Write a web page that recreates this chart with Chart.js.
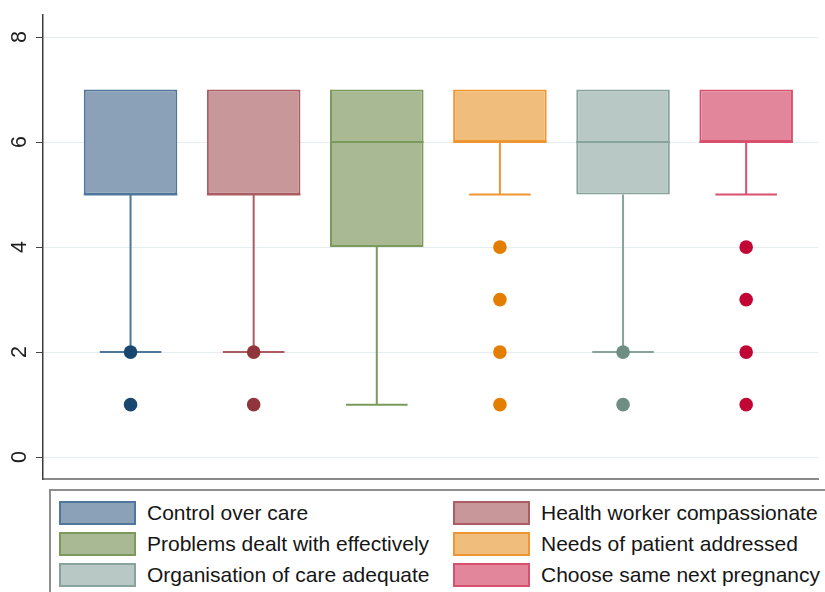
<!DOCTYPE html>
<html>
<head>
<meta charset="utf-8">
<script src="https://cdn.jsdelivr.net/npm/chart.js@4"></script>
<style>
  html, body { margin: 0; padding: 0; background: #fff; }
  body { width: 825px; height: 592px; overflow: hidden; position: relative; font-family: "Liberation Sans", Arial, sans-serif; }
  #plot { position: absolute; left: 0; top: 0; width: 825px; height: 486px; }
  #legend {
    position: absolute; left: 49px; top: 489px; width: 800px; height: 130px;
    box-sizing: border-box; border: 2px solid #8e8e8e; background: #fff;
    padding: 10px 0 0 8px;
    display: grid; grid-template-columns: 394px auto; grid-auto-rows: 24px; row-gap: 7px;
  }
  .item { display: flex; align-items: center; height: 24px; white-space: nowrap; }
  .swatch { width: 77px; height: 24px; box-sizing: border-box; border: 2px solid; margin-right: 11px; flex: none; }
  .label { font-size: 21px; color: #161616; line-height: 24px; }
</style>
</head>
<body>
<div id="plot"><canvas id="chart"></canvas></div>
<div id="legend"></div>
<script>
// Satisfaction items (one box each), scored 1-7
const categories = [
  'Control over care',
  'Health worker compassionate',
  'Problems dealt with effectively',
  'Needs of patient addressed',
  'Organisation of care adequate',
  'Choose same next pregnancy'
];
const lowerWhisker = [2, 2, 1, 5, 2, 5];
const q1 = [5, 5, 4, 6, 5, 6];
const median = [5, 5, 6, 6, 6, 6];
const q3 = [7, 7, 7, 7, 7, 7];
const upperWhisker = [7, 7, 7, 7, 7, 7];
const outliers = [[2, 1], [2, 1], [], [4, 3, 2, 1], [2, 1], [4, 3, 2, 1]];
const yTicks = [0, 2, 4, 6, 8];

// Stata s2color-like palette: box fill, outline/whisker, marker
const fillColors = ['#8aa1b8', '#c7979a', '#a9b994', '#f1bd7d', '#b8c8c4', '#e2879b'];
const lineColors = ['#4f779d', '#ab5d63', '#7b9a5c', '#ee9631', '#87a39b', '#d9506f'];
const markerColors = ['#1a476f', '#90353b', '#55752f', '#e37e00', '#6e8e84', '#c10534'];

const boxData = categories.map((c, i) => ({ x: i + 1, y: [q1[i], q3[i]] }));
const outlierPoints = outliers.flatMap((vals, i) => vals.map(v => ({ x: i + 1, y: v })));
const outlierColors = outliers.flatMap((vals, i) => vals.map(() => markerColors[i]));

// Whiskers, caps and median lines, placed with the chart's scales
const boxWhiskers = {
  id: 'boxWhiskers',
  afterDatasetDraw(chart, args) {
    if (args.index !== 0) return;
    const { ctx, scales: { x, y } } = chart;
    const bars = chart.getDatasetMeta(0).data;
    const capHalf = 0.25;
    ctx.save();
    ctx.lineWidth = 2;
    ctx.lineCap = 'butt';
    categories.forEach((c, i) => {
      const cx = x.getPixelForValue(i + 1);
      const capL = x.getPixelForValue(i + 1 - capHalf);
      const capR = x.getPixelForValue(i + 1 + capHalf);
      ctx.strokeStyle = lineColors[i];
      if (lowerWhisker[i] < q1[i]) {
        const yb = y.getPixelForValue(q1[i]);
        const yw = y.getPixelForValue(lowerWhisker[i]);
        ctx.beginPath();
        ctx.moveTo(cx, yb); ctx.lineTo(cx, yw);
        ctx.moveTo(capL, yw); ctx.lineTo(capR, yw);
        ctx.stroke();
      }
      if (upperWhisker[i] > q3[i]) {
        const yt = y.getPixelForValue(q3[i]);
        const yw = y.getPixelForValue(upperWhisker[i]);
        ctx.beginPath();
        ctx.moveTo(cx, yt); ctx.lineTo(cx, yw);
        ctx.moveTo(capL, yw); ctx.lineTo(capR, yw);
        ctx.stroke();
      }
      const bar = bars[i];
      const ym = y.getPixelForValue(median[i]);
      ctx.beginPath();
      ctx.moveTo(bar.x - bar.width / 2, ym);
      ctx.lineTo(bar.x + bar.width / 2, ym);
      ctx.stroke();
    });
    ctx.restore();
  }
};

// Y tick labels written vertically (reading upwards)
const verticalTickLabels = {
  id: 'verticalTickLabels',
  afterDraw(chart) {
    const { ctx, scales: { y } } = chart;
    ctx.save();
    ctx.fillStyle = '#1e1e1e';
    ctx.font = '21.5px "Liberation Sans", Arial, sans-serif';
    ctx.textAlign = 'center';
    ctx.textBaseline = 'middle';
    y.ticks.forEach(t => {
      const py = y.getPixelForValue(t.value);
      ctx.save();
      ctx.translate(y.left - 16, py);
      ctx.rotate(-Math.PI / 2);
      ctx.fillText(String(t.value), 0, 0);
      ctx.restore();
    });
    ctx.restore();
  }
};

new Chart(document.getElementById('chart'), {
  type: 'bar',
  data: {
    datasets: [
      {
        type: 'bar',
        data: boxData,
        backgroundColor: fillColors,
        borderColor: lineColors,
        borderWidth: 2,
        borderSkipped: false,
        barPercentage: 1,
        categoryPercentage: 0.76,
        order: 1
      },
      {
        type: 'scatter',
        data: outlierPoints,
        pointBackgroundColor: outlierColors,
        pointBorderWidth: 0,
        pointRadius: 6.8,
        order: 0
      }
    ]
  },
  options: {
    responsive: true,
    maintainAspectRatio: false,
    animation: false,
    layout: { padding: { left: 36, top: 15, right: 0, bottom: 2 } },
    plugins: { legend: { display: false }, tooltip: { enabled: false } },
    scales: {
      x: {
        type: 'linear',
        min: 0.289,
        max: 6.585,
        offset: false,
        ticks: { display: false, stepSize: 1, includeBounds: false },
        grid: { color: 'rgba(0,0,0,0)', drawTicks: false, drawOnChartArea: false, offset: false },
        border: { display: true, color: '#8a8a8a', width: 2 }
      },
      y: {
        type: 'linear',
        min: -0.42,
        max: 8.42,
        afterBuildTicks: scale => { scale.ticks = yTicks.map(v => ({ value: v })); },
        ticks: { display: false },
        grid: { color: '#e6edf0', lineWidth: 1, tickLength: 7, tickColor: '#444', drawTicks: true },
        border: { display: true, color: '#3c3c3c', width: 1.5 }
      }
    }
  },
  plugins: [boxWhiskers, verticalTickLabels]
});

// Legend built from the same arrays
const legend = document.getElementById('legend');
categories.forEach((c, i) => {
  const item = document.createElement('div');
  item.className = 'item';
  const sw = document.createElement('span');
  sw.className = 'swatch';
  sw.style.background = fillColors[i];
  sw.style.borderColor = lineColors[i];
  const lb = document.createElement('span');
  lb.className = 'label';
  lb.textContent = c;
  item.appendChild(sw);
  item.appendChild(lb);
  legend.appendChild(item);
});
</script>
</body>
</html>
